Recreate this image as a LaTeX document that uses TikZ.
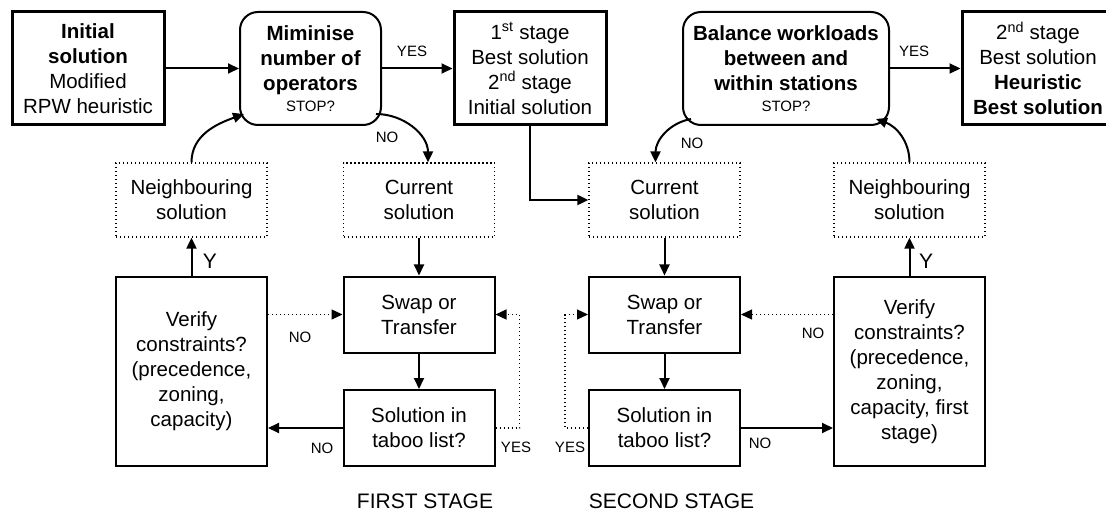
\documentclass[tikz,border=0pt]{standalone}
\usepackage{fontspec}
\setmainfont{Liberation Sans}
\usetikzlibrary{arrows.meta}
\begin{document}
\begin{tikzpicture}[x=1pt,y=-1pt,
  every node/.style={font=\fontsize{20.5}{25}\selectfont, inner sep=0pt, align=center},
  tbox/.style={draw, line width=3pt, minimum width=152pt, minimum height=113pt},
  rbox/.style={draw, line width=2pt, rounded corners=18pt, minimum height=113pt},
  dbox/.style={draw, line width=1.3pt, dash pattern=on 1.3pt off 2.7pt, minimum width=151pt, minimum height=74pt},
  pbox/.style={draw, line width=2pt, minimum width=151pt, minimum height=76pt},
  arr/.style={line width=2pt, -{Triangle[length=11pt,width=10pt]}},
  darr/.style={line width=1.3pt, dash pattern=on 1.3pt off 2.7pt, -{Triangle[length=11pt,width=10pt]}},
  small/.style={font=\fontsize{15}{18}\selectfont},
  lab/.style={font=\fontsize{21}{25}\selectfont}]
\useasboundingbox (0,0) rectangle (1106,513);
% top row
\node[tbox] (init) at (88,68.5) {\textbf{Initial}\\\textbf{solution}\\Modified\\RPW heuristic};
\node[rbox, minimum width=141pt] (min) at (310.5,68.5) {\textbf{Miminise}\\\textbf{number of}\\\textbf{operators}\\[-4pt]{\fontsize{15}{18}\selectfont STOP?}};
\node[tbox] (st1) at (530,68.5) {1\textsuperscript{st} stage\\Best solution\\2\textsuperscript{nd} stage\\Initial solution};
\node[rbox, minimum width=206pt] (bal) at (786,68.5) {\textbf{Balance workloads}\\\textbf{between and}\\\textbf{within stations}\\[-4pt]{\fontsize{15}{18}\selectfont STOP?}};
\node[tbox] (st2) at (1038,68.5) {2\textsuperscript{nd} stage\\Best solution\\\textbf{Heuristic}\\\textbf{Best solution}};
% dotted boxes
\node[dbox] (nb1) at (191.5,200) {Neighbouring\\solution};
\node[dbox] (cur1) at (419,200) {Current\\solution};
\node[dbox] (cur2) at (664.5,200) {Current\\solution};
\node[dbox] (nb2) at (909.5,200) {Neighbouring\\solution};
% lower boxes
\node[pbox] (sw1) at (419,314.5) {Swap or\\Transfer};
\node[pbox] (tb1) at (419,428) {Solution in\\taboo list?};
\node[pbox, minimum height=189pt] (ver1) at (191.5,371.5) {Verify\\constraints?\\(precedence,\\zoning,\\capacity)};
\node[pbox] (sw2) at (664.5,314.5) {Swap or\\Transfer};
\node[pbox] (tb2) at (664.5,428) {Solution in\\taboo list?};
\node[pbox, minimum height=189pt] (ver2) at (909.5,371.5) {Verify\\constraints?\\(precedence,\\zoning,\\capacity, first\\stage)};
% labels
\node[small] (yes1) at (412,51) {YES};
\node[small] (yes2) at (914,51) {YES};
\node[small] (no1) at (387,137) {NO};
\node[small] (no2) at (692,143) {NO};
\node[lab] (y1) at (210,261) {Y};
\node[lab] (y2) at (926,261) {Y};
\node[small] (no3) at (300,337) {NO};
\node[small] (no4) at (813,333) {NO};
\node[small] (no5) at (322,448) {NO};
\node[small] (yes3) at (516,447) {YES};
\node[small] (no6) at (760,443) {NO};
\node[small] (yes4) at (570,447) {YES};
\node[lab] (fs) at (425,501) {FIRST STAGE};
\node[lab] (ss) at (671.5,501) {SECOND STAGE};
% connectors
\draw[arr] (init) -- (min);
\draw[arr] (min) -- (st1);
\draw[arr] (bal) -- (st2);
\draw[arr] (st1.south) |- (cur2.west);
\draw[arr] ([xshift=-6pt,yshift=12pt]min.south east) to[out=0,in=90] ([xshift=9pt]cur1.north);
\draw[arr] (nb1.north) to[out=90,in=200] ([xshift=5pt,yshift=12pt]min.south west);
\draw[arr] ([xshift=9pt,yshift=7pt]bal.south west) to[out=190,in=90] ([xshift=-9pt]cur2.north);
\draw[arr] (nb2.north) to[out=90,in=-20] ([xshift=-14pt,yshift=7pt]bal.south east);
\draw[arr] (cur1) -- (sw1);
\draw[arr] (cur2) -- (sw2);
\draw[arr] (sw1) -- (tb1);
\draw[arr] (sw2) -- (tb2);
\draw[arr] (tb1.west) -- (tb1.west -| ver1.east);
\draw[arr] (tb2.east) -- (tb2.east -| ver2.west);
\draw[arr] (ver1.north) -- (nb1.south);
\draw[arr] (ver2.north) -- (nb2.south);
\draw[darr] (ver1.east |- sw1.west) -- (sw1.west);
\draw[darr] (ver2.west |- sw2.east) -- (sw2.east);
\draw[darr] (tb1.east) -- ++(24,0) |- (sw1.east);
\draw[darr] (tb2.west) -- ++(-23,0) |- (sw2.west);
\end{tikzpicture}
\end{document}
